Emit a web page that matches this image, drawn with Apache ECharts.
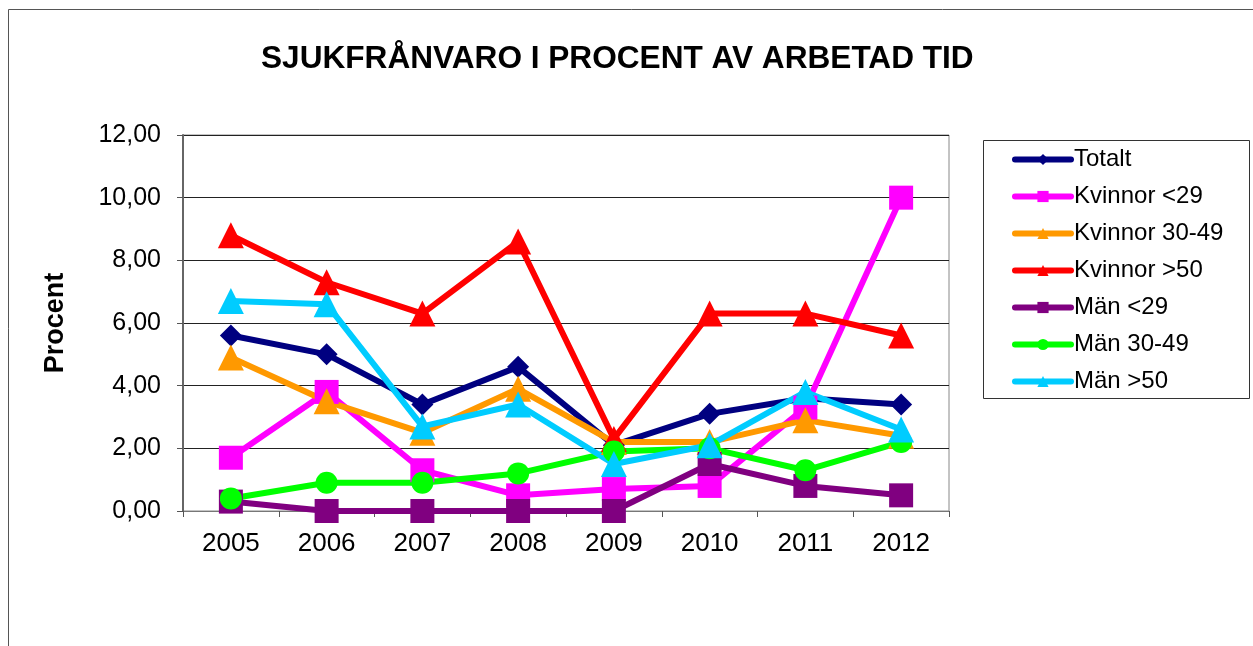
<!DOCTYPE html>
<html>
<head>
<meta charset="utf-8">
<script src="https://cdn.jsdelivr.net/npm/echarts@6/dist/echarts.min.js"></script>
<style>
  html, body { margin: 0; padding: 0; background: #fff; }
  #chart { width: 1253px; height: 646px; }
</style>
</head>
<body>
<div id="chart"></div>
<script>
// data
const years = ['2005', '2006', '2007', '2008', '2009', '2010', '2011', '2012'];
const totalt = [5.6, 5.0, 3.4, 4.6, 2.1, 3.1, 3.6, 3.4];
const kvinnorUnder29 = [1.7, 3.8, 1.3, 0.5, 0.7, 0.8, 3.3, 10.0];
const kvinnor3049 = [4.9, 3.5, 2.5, 3.9, 2.2, 2.2, 2.9, 2.4];
const kvinnorOver50 = [8.8, 7.3, 6.3, 8.6, 2.3, 6.3, 6.3, 5.6];
const manUnder29 = [0.3, 0.0, 0.0, 0.0, 0.0, 1.5, 0.8, 0.5];
const man3049 = [0.4, 0.9, 0.9, 1.2, 1.9, 2.0, 1.3, 2.2];
const manOver50 = [6.7, 6.6, 2.7, 3.4, 1.5, 2.1, 3.8, 2.6];

const font = '"Liberation Sans", Arial, sans-serif';

const chart = echarts.init(document.getElementById('chart'));

// helper for one line series
const makeSeries = (name, data, color, symbol, size) => ({
    name: name,
    type: 'line',
    data: data,
    symbol: symbol,
    symbolSize: size,
    lineStyle: { color: color, width: 6 },
    itemStyle: { color: color },
    emphasis: { disabled: true },
    animation: false
});

const option = {
    backgroundColor: '#fff',
    title: {
        text: 'SJUKFRÅNVARO I PROCENT AV ARBETAD TID',
        left: 256,
        top: 38,
        textStyle: { fontFamily: font, fontSize: 31.6, fontWeight: 'bold', color: '#000' }
    },
    graphic: [
        {
            type: 'rect',
            shape: { x: 8.5, y: 9.5, width: 1300, height: 700 },
            style: { fill: 'none', stroke: '#555', lineWidth: 1 },
            silent: true
        },
        {
            type: 'rect',
            shape: { x: 983.5, y: 140.5, width: 266, height: 258 },
            style: { fill: 'none', stroke: '#333', lineWidth: 1 },
            silent: true
        }
    ],
    legend: {
        orient: 'vertical',
        left: 1012,
        top: 147,
        padding: 0,
        itemWidth: 56,
        itemHeight: 14,
        itemGap: 12,
        lineStyle: { width: 6, cap: 'round' },
        textStyle: { fontFamily: font, fontSize: 24, color: '#000', lineHeight: 25, padding: [0, 0, 0, -2] },
        data: ['Totalt', 'Kvinnor <29', 'Kvinnor 30-49', 'Kvinnor >50', 'Män <29', 'Män 30-49', 'Män >50']
    },
    grid: {
        left: 183,
        top: 135,
        width: 766,
        height: 376,
        show: true,
        borderColor: '#888',
        borderWidth: 1
    },
    xAxis: {
        type: 'category',
        data: years,
        boundaryGap: true,
        axisLine: { lineStyle: { color: '#777', width: 1 } },
        axisTick: { show: true, length: 6, lineStyle: { color: '#555' } },
        axisLabel: { fontFamily: font, fontSize: 26, color: '#000', margin: 20 }
    },
    yAxis: {
        type: 'value',
        min: 0,
        max: 12,
        interval: 2,
        name: 'Procent',
        nameLocation: 'middle',
        nameGap: 114,
        nameRotate: 90,
        nameTextStyle: { fontFamily: font, fontSize: 27, fontWeight: 'bold', color: '#000' },
        axisLine: { show: true, lineStyle: { color: '#666', width: 2 } },
        axisTick: { show: true, length: 6, inside: false, lineStyle: { color: '#555' } },
        axisLabel: {
            fontFamily: font,
            fontSize: 25,
            color: '#000',
            margin: 22,
            formatter: v => v.toFixed(2).replace('.', ',')
        },
        splitLine: { lineStyle: { color: '#222', width: 1 } }
    },
    series: [
        makeSeries('Totalt', totalt, '#000080', 'diamond', 22),
        makeSeries('Kvinnor <29', kvinnorUnder29, '#FF00FF', 'rect', 24),
        makeSeries('Kvinnor 30-49', kvinnor3049, '#FF9900', 'triangle', 26),
        makeSeries('Kvinnor >50', kvinnorOver50, '#FF0000', 'triangle', 26),
        makeSeries('Män <29', manUnder29, '#800080', 'rect', 24),
        makeSeries('Män 30-49', man3049, '#00FF00', 'circle', 22),
        makeSeries('Män >50', manOver50, '#00CCFF', 'triangle', 26)
    ]
};

chart.setOption(option);
window.addEventListener('resize', chart.resize);
</script>
</body>
</html>
